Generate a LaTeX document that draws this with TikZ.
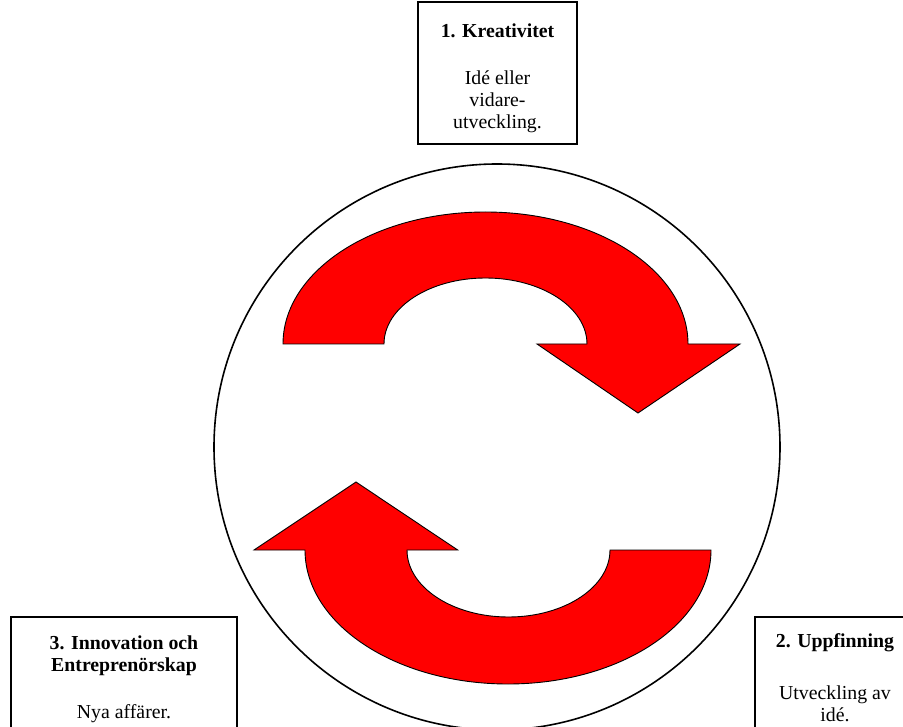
\documentclass[tikz,border=0pt]{standalone}
\usepackage{fontspec}
\setmainfont{Liberation Serif}
\begin{document}
\begin{tikzpicture}[x=1pt,y=-1pt,
		ruta/.style={draw,line width=1.5pt,inner sep=0pt},
		tekst/.style={align=center,inner sep=0pt,font=\fontsize{19.8}{22}\selectfont},
		pil/.style={fill=red,draw=black,line width=0.9pt,line join=miter}]
				\useasboundingbox (0,0) rectangle (903,727);
				\clip (0,0) rectangle (903,727);
				\draw[line width=1.6pt] (497,447) circle[radius=283];
				\draw[pil] (283,344) arc[start angle=180,end angle=360,x radius=202.5,y radius=132]
					-- (740,344) -- (638,413) -- (537,344) -- (587,344)
					arc[start angle=0,end angle=-180,x radius=101.5,y radius=66] -- cycle;
				\draw[pil] (305,550) -- (254,550) -- (356,482) -- (457.7,550) -- (407,550)
					arc[start angle=180,end angle=0,x radius=101.5,y radius=67] -- (711,550)
					arc[start angle=0,end angle=180,x radius=203,y radius=134] -- cycle;
				\node[ruta,minimum width=159pt,minimum height=142pt] (kreativitet) at (497.5,73) {};
				\node[tekst] (kreativitettext) at (497.5,78)
					{\textbf{1. Kreativitet}\\[25pt] Idé eller\\ vidare-\\ utveckling.};
				\node[ruta,minimum width=226pt,minimum height=130pt] (innovation) at (124,682) {};
				\node[tekst] (innovationtext) at (124,679)
					{\textbf{3. Innovation och}\\ \textbf{Entreprenörskap}\\[25pt] Nya affärer.};
				\node[ruta,minimum width=160pt,minimum height=130pt] (uppfinning) at (835,682) {};
				\node[tekst] (uppfinningtext) at (835,678)
					{\textbf{2. Uppfinning}\\[30pt] Utveckling av\\ idé.};
		\end{tikzpicture}
\end{document}
